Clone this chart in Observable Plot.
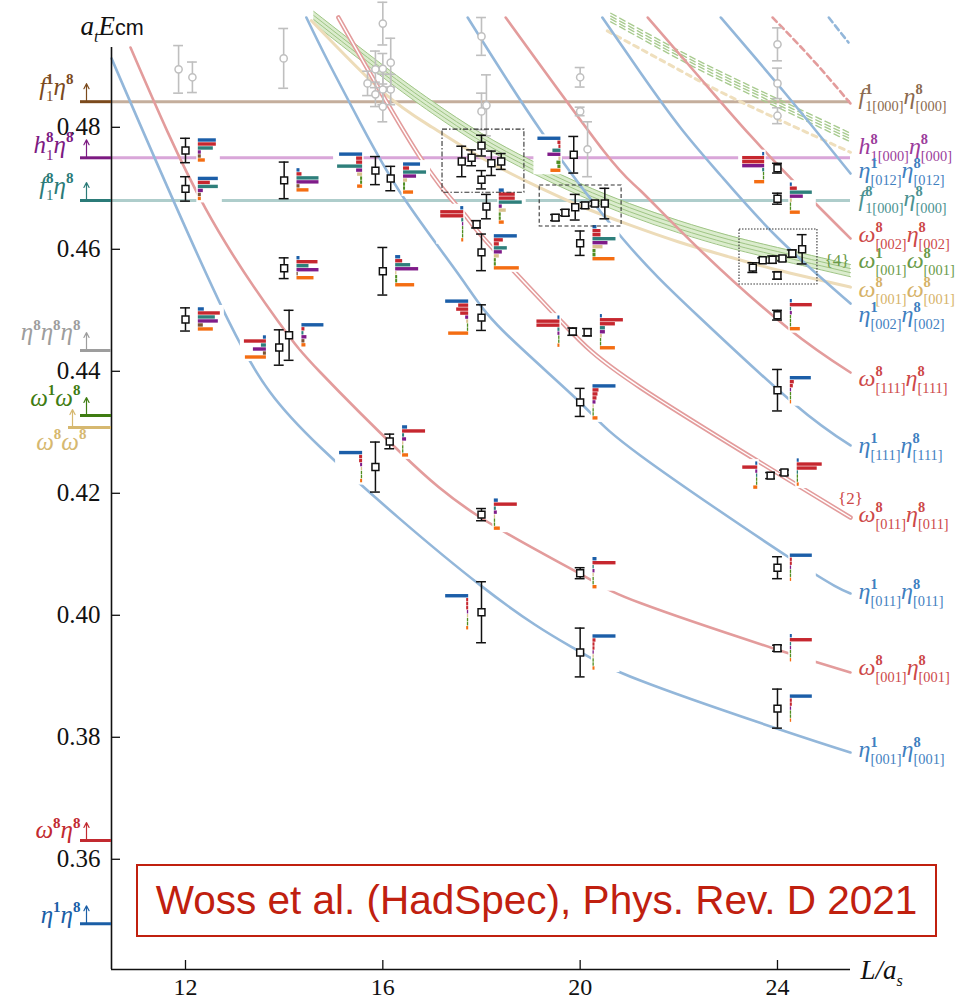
<!DOCTYPE html>
<html>
<head>
<meta charset="utf-8">
<script src="https://cdn.jsdelivr.net/npm/d3@7"></script>
<script src="https://cdn.jsdelivr.net/npm/@observablehq/plot@0.6"></script>
<style>
html,body{margin:0;padding:0;background:#fff;}
#wrap{position:relative;width:955px;height:999px;overflow:hidden;}
#wrap svg text{font-family:"Liberation Serif","Times New Roman","DejaVu Serif",serif;}
#note{position:absolute;left:136px;top:864px;width:801px;height:73px;box-sizing:border-box;border:2px solid #c0200f;background:#fff;color:#c0200f;font-family:"Liberation Sans",Arial,sans-serif;font-size:40.5px;line-height:69px;text-align:center;white-space:nowrap;}
</style>
</head>
<body>
<div id="wrap"><div id="note">Woss et al. (HadSpec), Phys. Rev. D 2021</div></div>
<script>
// ---------------- DATA ----------------
const xTicks = [12, 16, 20, 24];
const yTicks = [0.36, 0.38, 0.40, 0.42, 0.44, 0.46, 0.48];

// black points: L/a_s, a_t E_cm, error
const pointL = [12.0,12.0,12.0, 14.0,14.0,13.9,14.1, 15.85,16.16,16.0,15.85,16.14,
  17.6,17.8,18.0,18.0,18.2,18.4, 18.1,17.9,18.0,18.0,18.0,18.0,
  19.5,19.7,19.9,20.1,20.3,20.5, 19.87,20.0,19.85,20.15,20.0,20.0,20.0,
  24.0,24.0, 23.5,23.7,23.9,24.1,24.3,24.5, 24.0,24.0,24.0,23.86,24.14,24.0,24.0,24.0];
const pointE = [0.4762,0.4699,0.4485, 0.4713,0.4569,0.4439,0.4459, 0.4729,0.4716,0.4564,0.4243,0.4285,
  0.4744,0.4750,0.4770,0.4714,0.4741,0.4744, 0.4670,0.4641,0.4595,0.4488,0.4005,0.4165,
  0.4652,0.4660,0.4669,0.4672,0.4675,0.4675, 0.4755,0.4610,0.4465,0.4464,0.4349,0.4069,0.3939,
  0.4733,0.4683, 0.4570,0.4582,0.4583,0.4585,0.4593,0.4600, 0.4557,0.4492,0.4369,0.4229,0.4234,0.4078,0.3946,0.3847];
const pointErr = [0.0020,0.0020,0.0019, 0.0030,0.0017,0.0029,0.0041, 0.0023,0.0020,0.0039,0.0041,0.0012,
  0.0025,0.0013,0.0017,0.0015,0.0020,0.0013, 0.0020,0.0006,0.0030,0.0021,0.0050,0.0010,
  0.0005,0.0005,0.0021,0.0005,0.0004,0.0025, 0.0030,0.0020,0.0006,0.0006,0.0023,0.0009,0.0040,
  0.0008,0.0009, 0.0008,0.0004,0.0006,0.0004,0.0006,0.0024, 0.0006,0.0008,0.0034,0.0005,0.0004,0.0018,0.0005,0.0032];
// operator-overlap histograms per point: side (R/L) : rows (colour key + overlap size)
const pointHist = [
  "R:b18 r18 t15 p3 w3 o7", "R:b20 r12 t20 p5 w3 o3", "R:b6 r22 t17 p20 w5 o15",
  "R:b3 r5 t22 p22 w3 o12", "R:b3 r21 t12 p22 w1 o17", "L:b3 r22 t5 p13 w3 o21", "R:b22 r3 t2 p5 w3 o4",
  "L:b23 r6 r6 t25 p6 n5 g2 g2 o5", "R:b17 r6 t23 p13 n4 g2 g2 o10", "R:b5 r7 t15 p23 n1 g2 g2 o19",
  "L:b23 r3 r3 p2 n1 g1 g1 o2", "R:b5 r23 t2 p4 n1 g1 g1 o6",
  "", "", "", "", "", "",
  "R:b5 r16 r16 t23 p3 n7 g2 g2 o5", "L:b3 r23 r23 t2 p1 g1 g1 g1 o2", "R:b23 r9 r5 t13 p8 n5 g2 g2 o25",
  "L:b23 r10 r12 r8 p3 n2 g1 g1 o20", "L:b23 r2 r2 r2 p1 n1 g1 g1 o2", "R:b4 r23 t2 p3 n1 g1 g1 o6",
  "", "", "", "", "", "",
  "L:b23 r3 r2 t8 p13 n2 g4 g3 o10", "R:b4 r8 r8 t23 p15 n10 g3 g3 o22", "L:b2 r23 r23 t2 p2 g1 g1 o2",
  "R:b2 r23 r15 t5 p5 n2 g1 g1 o15", "R:b23 r6 r5 r4 p3 n1 g1 g1 o5", "R:b4 r23 t1 p2 n1 g1 g1 o4",
  "R:b23 r3 r2 r2 p1 n1 g1 g1 o2",
  "L:b2 r22 r22 p22 t2 g1 g1 o10", "R:b2 r7 t22 p13 n2 g1 g1 o10",
  "", "", "", "", "", "",
  "", "R:b2 r22 t1 p2 g1 g1 g1 o10", "R:b21 r4 r3 p1 g1 g1 o1", "L:b2 r15 p2 t1 g1 g1 o4",
  "R:b2 r25 r20 t1 g1 g1 o2", "R:b22 r2 r2 p1 g1 g1 o1", "R:b2 r22 t1 p1 g1 g1 o1", "R:b22 r2 r2 p1 g1 g1 o1"
];

// grey (higher) levels
const greyL = [11.86,12.14,13.99, 16.0,16.16,16.0,15.85,15.69,16.0,16.16,15.85,16.0, 18.0,18.1,18.0, 20.0,20.0,20.15, 24.0,24.0,24.0];
const greyE = [0.4895,0.4882,0.4913, 0.4970,0.4906,0.4896,0.4895,0.4872,0.4862,0.4862,0.4854,0.4834, 0.4949,0.4836,0.4826, 0.4882,0.4826,0.4764, 0.4936,0.4872,0.4819];
const greyErr = [0.0039,0.0025,0.0049, 0.0035,0.0040,0.0025,0.0030,0.0020,0.0025,0.0025,0.0020,0.0025, 0.0031,0.0050,0.0030, 0.0016,0.0007,0.0045, 0.0027,0.0025,0.0013];

// non-interacting curves
const eta001L = [10.5,12.87,14.74,17.98,19.87,21.22,24.0,25.48];
const eta001E = [0.4913,0.4483,0.4275,0.4049,0.3946,0.3893,0.3814,0.3775];
const eta011L = [14.45,14.88,15.55,16.42,17.58,18.43,20.0,21.22,24.33,25.48];
const eta011E = [0.4980,0.49095,0.48062,0.46849,0.45538,0.44669,0.43489,0.4262,0.40898,0.40357];
const eta111L = [17.72,19.2,20.86,22.38,24.33,25.48];
const eta111E = [0.4980,0.47948,0.46177,0.44915,0.43472,0.42784];
const eta002L = [20.45,21.22,22.03,22.85,24.0,25.48];
const eta002E = [0.4980,0.48898,0.47997,0.4721,0.46193,0.45111];
const eta012L = [22.85,24.16,25.48];
const eta012E = [0.4980,0.48554,0.47242];
const etaHiL = [25.04,25.44];
const etaHiE = [0.4980,0.4939];
const om001L = [10.885,12.405,13.865,14.737,16.358,17.98,20.0,21.22,23.92,25.48];
const om001E = [0.49308,0.46669,0.44833,0.4398,0.42669,0.41603,0.4068,0.4020,0.39456,0.39062];
const om011L = [15.1,16.76,17.64,18.12,19.6,21.22,25.48];
const om011E = [0.4980,0.47505,0.46587,0.46111,0.44833,0.43735,0.41603];
const om111L = [18.49,20.47,21.22,22.44,24.22,25.48];
const om111E = [0.4980,0.4762,0.46964,0.4598,0.44702,0.4398];
const om002L = [21.37,22.44,23.45,24.47,25.48];
const om002E = [0.4980,0.488,0.47866,0.46997,0.46177];
const omHiL = [23.9,24.69,25.48];
const omHiE = [0.4980,0.49128,0.4839];
const w1w8L = [14.6,16,17,18,19,20,21,22,23,24,25.48];
const w1w8E = [0.4980,0.4892,0.4833,0.4780,0.4736,0.4698,0.4665,0.4637,0.4613,0.4593,0.4565];
const w8w8L = [14.55,16,17,18,19,20,21,22,23,24,25.48];
const w8w8E = [0.4975,0.4858,0.4800,0.4750,0.4708,0.4671,0.4640,0.4612,0.4588,0.4566,0.4538];
const w1w8HiL = [20.62,22.03,23.25,25.48];
const w1w8HiE = [0.4980,0.49177,0.48685,0.47833];
const w8w8HiL = [20.55,22.03,23.25,25.48];
const w8w8HiE = [0.4958,0.4893,0.4842,0.4759];

// thresholds
const thrNames = ["f_{1}^{1}η^{8}","h_{1}^{8}η^{8}","f_{1}^{8}η^{8}","η^{8}η^{8}η^{8}","ω^{1}ω^{8}","ω^{8}ω^{8}","ω^{8}η^{8}","η^{1}η^{8}"];
const thrE = [0.4842,0.4750,0.4680,0.44341,0.43275,0.43078,0.36308,0.34943];

// right-hand level labels
const rlText = ["f^{1}_{1[000]}η^{8}_{[000]}","h^{8}_{1[000]}η^{8}_{[000]}","η^{1}_{[012]}η^{8}_{[012]}","f^{8}_{1[000]}η^{8}_{[000]}",
  "ω^{8}_{[002]}η^{8}_{[002]}","ω^{1}_{[001]}ω^{8}_{[001]}","ω^{8}_{[001]}ω^{8}_{[001]}","η^{1}_{[002]}η^{8}_{[002]}",
  "ω^{8}_{[111]}η^{8}_{[111]}","η^{1}_{[111]}η^{8}_{[111]}","ω^{8}_{[011]}η^{8}_{[011]}","η^{1}_{[011]}η^{8}_{[011]}",
  "ω^{8}_{[001]}η^{8}_{[001]}","η^{1}_{[001]}η^{8}_{[001]}"];
const rlE = [0.48472,0.47652,0.47259,0.46800,0.46210,0.45784,0.45308,0.44898,0.43849,0.42751,0.41620,0.40357,0.39111,0.37767];

// boxes
const boxL1 = [17.21,19.18,23.23], boxL2 = [18.87,20.84,24.81];
const boxE1 = [0.47962,0.47046,0.46325], boxE2 = [0.46928,0.46374,0.45423];

// ---------------- LAYOUT / STYLE ----------------
const W=955, H=999, ML=111, MR=105, MT=15, MB=30;
const xDomain=[10.5,25.48], yDomain=[0.34193,0.49833];
const PXL=(W-ML-MR)/(xDomain[1]-xDomain[0]);
const PXE=(H-MT-MB)/(yDomain[1]-yDomain[0]);
const serif='Liberation Serif, Times New Roman, DejaVu Serif, serif';
const cBlue="#93b7da", cRed="#e39c9c";
const HC={b:"#1b5ea8",r:"#c6272f",t:"#2e7f7b",p:"#7f1b89",n:"#d9c18e",w:"#7b5437",g:"#4f8d20",o:"#f46d12"};
const thrLight=["#c4ae9c","#d9a6d9","#aecdcb"];
const thrDark=["#7b4a1c","#7c1a82","#2b7b78","#9d9d9d","#3f7c12","#d6b870","#c22a30","#1a5ea6"];
const llDx=[-38,-38,-38,-31,-31,-25,-31,-31], llDy=[-7,-5,-7,-10,-10,22,-2,-1];
const llArrowDx=[-25,-25,-25,-25,-25,-39,-25,-25], llLineStart=[-31,-31,-31,-31,-31,-43,-31,-31];
const lblBlue="#3f80bf", lblRed="#cd4848";
const rlColor=["#8b6a4e","#9b3c9b",lblBlue,"#4b9291",lblRed,"#6a9a48","#d6b267",lblBlue,lblRed,lblBlue,lblRed,lblBlue,lblRed,lblBlue];
const boxDash=["5,2,1.5,2","4,2.5","1.5,1.5"];

const tab=(L,E)=>L.map((l,i)=>({L:l,E:E[i]}));
const M="\u200B";
const marks=[];

// horizontal thresholds across frame
[0,1,2].forEach(i=>marks.push(Plot.ruleY([thrE[i]],{x1:xDomain[0],x2:xDomain[1],stroke:thrLight[i],strokeWidth:3})));

// green band (solid)
const band=tab(w1w8L,w1w8E);
marks.push(Plot.areaY(band,{x:"L",y1:d=>d.E-0.001,y2:d=>d.E+0.001,fill:"#dbeccd",curve:"natural"}));
[-0.001,-0.00033,0.00033,0.001].forEach(o=>marks.push(Plot.line(band,{x:"L",y:d=>d.E+o,stroke:"#9fc585",strokeWidth:1,curve:"natural"})));
// dashed green band and tan
const bandHi=tab(w1w8HiL,w1w8HiE);
[-0.0007,-0.00023,0.00023,0.0007].forEach(o=>marks.push(Plot.line(bandHi,{x:"L",y:d=>d.E+o,stroke:"#a9cb90",strokeWidth:1.4,strokeDasharray:"6,4",curve:"natural"})));
marks.push(Plot.line(tab(w8w8HiL,w8w8HiE),{x:"L",y:"E",stroke:"#efdfbd",strokeWidth:3,strokeDasharray:"5,5",curve:"natural"}));
marks.push(Plot.line(tab(w8w8L,w8w8E),{x:"L",y:"E",stroke:"#eddcb9",strokeWidth:3,curve:"natural"}));

// blue and red curves
[[eta001L,eta001E],[eta011L,eta011E],[eta111L,eta111E],[eta002L,eta002E],[eta012L,eta012E]].forEach(([L,E])=>
  marks.push(Plot.line(tab(L,E),{x:"L",y:"E",stroke:cBlue,strokeWidth:2.6,curve:"natural"})));
marks.push(Plot.line(tab(etaHiL,etaHiE),{x:"L",y:"E",stroke:cBlue,strokeWidth:2.6,strokeDasharray:"6,4"}));
[[om001L,om001E],[om111L,om111E],[om002L,om002E]].forEach(([L,E])=>
  marks.push(Plot.line(tab(L,E),{x:"L",y:"E",stroke:cRed,strokeWidth:2.6,curve:"natural"})));
marks.push(Plot.line(tab(om011L,om011E),{x:"L",y:"E",stroke:cRed,strokeWidth:4.6,curve:"natural"}));
marks.push(Plot.line(tab(om011L,om011E),{x:"L",y:"E",stroke:"#fff",strokeWidth:1.4,curve:"natural"}));
marks.push(Plot.line(tab(omHiL,omHiE),{x:"L",y:"E",stroke:cRed,strokeWidth:2.6,strokeDasharray:"6,4",curve:"natural"}));

// grey points
const greyTab=greyL.map((l,i)=>({L:l,E:greyE[i],err:greyErr[i]}));
const greyCaps=greyTab.flatMap(d=>[{L:d.L,E:d.E-d.err},{L:d.L,E:d.E+d.err}]);
marks.push(Plot.ruleX(greyTab,{x:"L",y1:d=>d.E-d.err,y2:d=>d.E+d.err,stroke:"#bfbfbf",strokeWidth:1.6}));
marks.push(Plot.ruleY(greyCaps,{y:"E",x1:d=>d.L-0.1,x2:d=>d.L+0.1,stroke:"#bfbfbf",strokeWidth:1.6}));
marks.push(Plot.dot(greyTab,{x:"L",y:"E",r:3.6,fill:"#fff",stroke:"#bfbfbf",strokeWidth:1.5}));

// histograms
const hBars=[], hBg=[];
pointL.forEach((L,i)=>{
  const spec=pointHist[i]; if(!spec) return;
  const [side,rs]=spec.split(":");
  const dir=side==="R"?1:-1;
  const rows=rs.trim().split(/\s+/).map(s=>({c:s[0],len:+s.slice(1)}));
  const rowH=4/PXE, n=rows.length, top=pointE[i]+n*rowH/2;
  const stem=L+dir*0.26;
  const maxLen=d3.max(rows,r=>r.len);
  hBg.push({x1:stem-dir*1.5/PXL,x2:stem+dir*(maxLen+4)/PXL,y1:top+2/PXE,y2:top-n*rowH-2/PXE});
  rows.forEach((r,k)=>hBars.push({x1:stem,x2:stem+dir*Math.max(r.len,1.3)/PXL,y1:top-k*rowH-0.3/PXE,y2:top-(k+1)*rowH+0.3/PXE,c:HC[r.c]}));
});
marks.push(Plot.rect(hBg,{x1:"x1",x2:"x2",y1:"y1",y2:"y2",fill:"#fff"}));
marks.push(Plot.rect(hBars,{x1:"x1",x2:"x2",y1:"y1",y2:"y2",fill:"c"}));

// black points
const ptTab=pointL.map((l,i)=>({L:l,E:pointE[i],err:pointErr[i]}));
const ptCaps=ptTab.flatMap(d=>[{L:d.L,E:d.E-d.err},{L:d.L,E:d.E+d.err}]);
marks.push(Plot.ruleX(ptTab,{x:"L",y1:d=>d.E-d.err,y2:d=>d.E+d.err,stroke:"#111",strokeWidth:1.5}));
marks.push(Plot.ruleY(ptCaps,{y:"E",x1:d=>d.L-0.1,x2:d=>d.L+0.1,stroke:"#111",strokeWidth:1.5}));
marks.push(Plot.dot(ptTab,{x:"L",y:"E",r:3.9,symbol:"square",fill:"#fff",stroke:"#111",strokeWidth:1.5}));

// dashed boxes
[0,1,2].forEach(i=>marks.push(Plot.rect([i],{x1:boxL1[i],x2:boxL2[i],y1:boxE1[i],y2:boxE2[i],fill:"none",stroke:"#333",strokeWidth:1.1,strokeDasharray:boxDash[i]})));

// axes
marks.push(Plot.ruleX([xDomain[0]],{y1:yDomain[0],y2:0.49308,stroke:"#111",strokeWidth:1.6}));
marks.push(Plot.ruleY([yDomain[0]],{x1:xDomain[0],x2:xDomain[1],stroke:"#111",strokeWidth:1.6}));
marks.push(Plot.ruleY(yTicks,{y:d=>d,x1:xDomain[0],x2:xDomain[0]+9/PXL,stroke:"#111",strokeWidth:1.3}));
marks.push(Plot.ruleX(xTicks,{x:d=>d,y1:yDomain[0],y2:yDomain[0]+9/PXE,stroke:"#111",strokeWidth:1.3}));
marks.push(Plot.text(yTicks,{x:xDomain[0],y:d=>d,text:d=>d.toFixed(2),dx:-11,textAnchor:"end",lineAnchor:"middle",fontSize:25,fontFamily:serif,fill:"#111"}));
marks.push(Plot.text(xTicks,{x:d=>d,y:yDomain[0],text:d=>String(d),dy:18,textAnchor:"middle",lineAnchor:"middle",fontSize:24,fontFamily:serif,fill:"#111"}));
marks.push(Plot.text([0],{x:xDomain[0],y:yDomain[1],text:()=>M+"a_{t}E~{cm}",dx:-31,dy:19,textAnchor:"start",lineAnchor:"bottom",fontSize:27,fontStyle:"italic",fontFamily:serif,fill:"#111"}));
marks.push(Plot.text([0],{x:xDomain[1],y:yDomain[0],text:()=>M+"L/a_{s}",dx:10,dy:9,textAnchor:"start",lineAnchor:"bottom",fontSize:27,fontStyle:"italic",fontFamily:serif,fill:"#111"}));

// left threshold markers
thrNames.forEach((t,i)=>{
  const xa=xDomain[0]+llArrowDx[i]/PXL;
  marks.push(Plot.ruleY([thrE[i]],{x1:xDomain[0]+llLineStart[i]/PXL,x2:xDomain[0],stroke:thrDark[i],strokeWidth:3}));
  marks.push(Plot.text([i],{x:xDomain[0],y:thrE[i],text:()=>M+t,dx:llDx[i],dy:llDy[i],textAnchor:"end",lineAnchor:"bottom",fontSize:25,fontStyle:"italic",fontFamily:serif,fill:thrDark[i]}));
  marks.push(Plot.arrow([i],{x1:xa,x2:xa,y1:thrE[i],y2:thrE[i]+18/PXE,stroke:thrDark[i],strokeWidth:1.2,headLength:7,headAngle:55}));
});

// right labels
marks.push(Plot.text(rlText,{x:xDomain[1],y:(d,i)=>rlE[i],text:d=>M+d,fill:(d,i)=>rlColor[i],dx:8,dy:-2,textAnchor:"start",lineAnchor:"middle",fontSize:24,fontStyle:"italic",fontFamily:serif}));
marks.push(Plot.text(["{4}"],{x:xDomain[1],y:0.4582,text:d=>d,dx:-1,textAnchor:"end",lineAnchor:"middle",fontSize:17,fontFamily:serif,fill:"#6a9a48"}));
marks.push(Plot.text(["{2}"],{x:xDomain[1],y:0.41915,text:d=>d,dx:0,textAnchor:"middle",lineAnchor:"middle",fontSize:17,fontFamily:serif,fill:lblRed}));

const chart=Plot.plot({
  width:W,height:H,marginLeft:ML,marginRight:MR,marginTop:MT,marginBottom:MB,
  x:{domain:xDomain,axis:null},y:{domain:yDomain,axis:null},
  color:{type:"identity"},
  style:{background:"#fff",overflow:"visible"},
  marks
});
document.getElementById("wrap").insertBefore(chart, document.getElementById("note"));

// math markup -> tspans  (^{sup}, _{sub}, ~{upright sans})
function renderMath(el, src){
  const fs=parseFloat(getComputedStyle(el).fontSize)||20;
  while(el.firstChild) el.removeChild(el.firstChild);
  const ns="http://www.w3.org/2000/svg";
  const toks=[]; let i=0;
  const isScript=j=>(src[j]==="^"||src[j]==="_"||src[j]==="~")&&src[j+1]==="{";
  while(i<src.length){
    if(isScript(i)){const j=src.indexOf("}",i+2);toks.push({t:src[i],s:src.slice(i+2,j)});i=j+1;}
    else{let j=i;while(j<src.length&&!isScript(j))j++;toks.push({t:"b",s:src.slice(i,j)});i=j;}
  }
  const SUP=-0.42*fs, SUB=0.27*fs;
  let cur=0, pend=0, k=0;
  const mk=(tk,dy)=>{
    const t=document.createElementNS(ns,"tspan");
    t.textContent=tk.s; t.setAttribute("dy",dy);
    if(tk.t==="~"){
      t.setAttribute("font-size",(0.8*fs).toFixed(1));
      t.setAttribute("style","font-family:'Liberation Sans',Arial,sans-serif;font-style:normal");
    } else if(tk.t!=="b"){
      t.setAttribute("font-size",(0.6*fs).toFixed(1));
      t.setAttribute("font-style",/^[a-z]$/.test(tk.s)?"italic":"normal");
      if(tk.t==="^") t.setAttribute("font-weight","bold");
    }
    el.appendChild(t); return t;
  };
  while(k<toks.length){
    const tk=toks[k];
    if(tk.t==="b"||tk.t==="~"){const t=mk(tk,-cur);if(pend)t.setAttribute("dx",pend);pend=0;cur=0;k++;}
    else{
      const o1=tk.t==="^"?SUP:SUB; const t1=mk(tk,o1-cur); cur=o1;
      const nx=toks[k+1];
      if(nx&&(nx.t==="^"||nx.t==="_")&&nx.t!==tk.t){
        const o2=nx.t==="^"?SUP:SUB; const t2=mk(nx,o2-cur); cur=o2;
        const w1=t1.getComputedTextLength(), w2=t2.getComputedTextLength();
        t2.setAttribute("dx",-w1); pend=Math.max(0,w1-w2); k+=2;
      } else k++;
    }
  }
}
chart.querySelectorAll("text").forEach(t=>{ if(t.textContent.startsWith(M)) renderMath(t, t.textContent.slice(1)); });
</script>
</body>
</html>
